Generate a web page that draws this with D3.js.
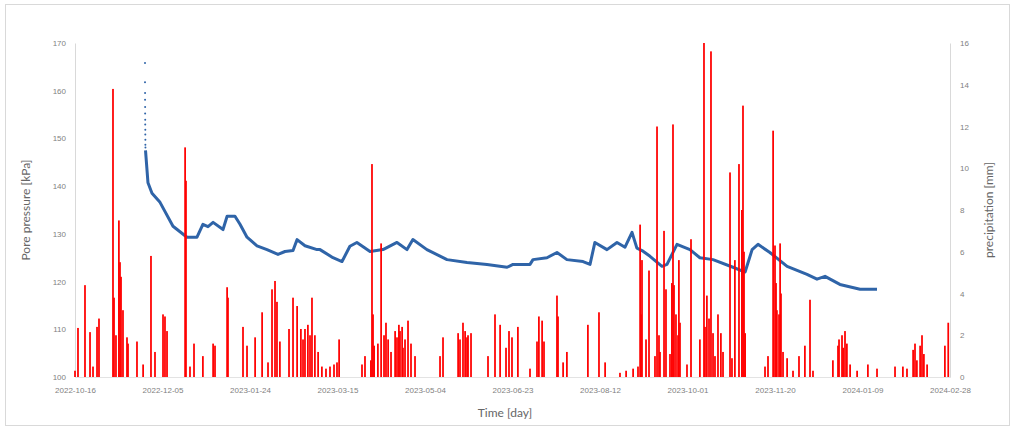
<!DOCTYPE html>
<html>
<head>
<meta charset="utf-8">
<script src="https://cdn.jsdelivr.net/npm/d3@7"></script>
<style>
    body { margin: 0; background: #fff; }
    svg { display: block; font-family: Lato, "Open Sans", sans-serif; }
    .tick text { fill: #7f7f7f; font-size: 8px; }
    .title { fill: #666; font-size: 12px; }
</style>
</head>
<body>
<svg width="1014" height="431"></svg>
<script>
// days are counted from the first date tick (2022-10-16)
const startDate = "2022-10-16";
const dateTicks = ["2022-10-16", "2022-12-05", "2023-01-24", "2023-03-15", "2023-05-04", "2023-06-23",
    "2023-08-12", "2023-10-01", "2023-11-20", "2024-01-09", "2024-02-28"];
const pressureTicks = [100, 110, 120, 130, 140, 150, 160, 170];
const precipTicks = [0, 2, 4, 6, 8, 10, 12, 14, 16];

// first readings after installation, shown as dots
const initDays = [40.0, 40.02, 40.04, 40.06, 40.08, 40.1, 40.12, 40.14, 40.16, 40.18, 40.2, 40.22, 40.24];
const initKpa = [165.8, 161.8, 159.5, 158.1, 156.6, 155.2, 153.9, 152.9, 151.8, 150.8, 149.7, 148.7, 148.1];

const poreDays = [40.3, 41.7, 44, 48.6, 56, 64, 69.7, 73.1, 76, 78.9, 84.6, 86.9, 91.4, 94.3, 98.3, 104,
    109.7, 116, 120, 124.6, 126.9, 131.4, 138.3, 140, 147.4, 152.6, 157.1, 161.1, 168.6, 176, 184,
    189.7, 193.1, 201.1, 212.6, 224, 235.4, 246.9, 250.3, 260, 261.7, 269.7, 275.4, 281.1, 290.3,
    294.3, 297.1, 304, 309.7, 314.3, 318.3, 321.1, 324, 328.6, 335.4, 338.3, 344, 351.4, 357.1,
    364.6, 376, 382.9, 386.9, 390.3, 397.1, 406.9, 418.3, 424, 428.6, 437.1, 448.6, 458.3];
const poreKpa = [147.5, 140.7, 138.5, 136.6, 131.6, 129.3, 129.3, 132, 131.5, 132.4, 130.9, 133.7, 133.7,
    132, 129.3, 127.5, 126.7, 125.7, 126.3, 126.5, 128.8, 127.5, 126.7, 126.7, 125, 124.2, 127.4,
    128.2, 126.3, 126.7, 128.2, 126.7, 128.8, 126.7, 124.6, 124, 123.6, 123, 123.6, 123.6, 124.6,
    125, 126.1, 124.6, 124.2, 123.6, 128.2, 126.7, 128.2, 127.2, 130.3, 127, 126.5, 125.3, 123.2,
    123.6, 127.8, 126.7, 125, 124.6, 123, 122, 126.7, 127.8, 126.1, 123.2, 121.5, 120.5, 121.1,
    119.4, 118.4, 118.4];

const rainDays = [0.0, 1.7, 5.7, 8.6, 10.3, 12.6, 13.7, 21.7, 22.3, 23.4, 25.1, 25.7, 26.3, 27.4, 29.7,
    30.3, 35.4, 38.9, 43.4, 45.7, 50.3, 51.4, 52.6, 62.9, 63.4, 65.7, 68.0, 73.1, 78.9, 80.0, 86.9,
    87.4, 96.0, 98.3, 102.9, 106.9, 110.3, 112.6, 114.3, 115.4, 117.1, 122.3, 124.6, 126.9, 129.1,
    130.3, 131.4, 133.1, 134.3, 135.4, 137.1, 138.9, 141.1, 143.4, 145.7, 148.0, 149.7, 150.9, 164.0,
    165.7, 169.1, 169.7, 170.3, 170.9, 173.1, 174.9, 176.6, 177.7, 178.9, 180.6, 182.9, 184.0, 185.1,
    185.7, 186.9, 187.4, 188.6, 190.3, 192.0, 194.3, 208.6, 210.3, 218.9, 220.0, 221.7, 222.9, 224.0,
    224.6, 226.3, 236.0, 240.0, 242.9, 246.3, 248.0, 249.7, 253.1, 260.0, 264.0, 265.1, 266.9, 268.0,
    275.4, 276.0, 278.9, 281.1, 293.1, 299.4, 302.9, 311.4, 314.9, 318.9, 321.7, 322.9, 323.4, 324.0,
    326.3, 328.0, 331.4, 332.6, 333.7, 334.3, 336.6, 337.7, 340.0, 341.1, 341.7, 342.3, 343.4, 344.6,
    345.1, 345.7, 349.7, 352.0, 357.1, 359.4, 360.0, 361.1, 362.3, 363.4, 364.6, 365.7, 367.4, 369.1,
    370.3, 374.3, 375.4, 377.1, 379.4, 381.1, 381.7, 382.3, 382.9, 394.3, 396.0, 398.9, 400.0, 400.6,
    401.1, 402.3, 402.9, 403.4, 404.6, 406.9, 410.3, 413.7, 417.1, 420.0, 421.7, 433.1, 436.0, 436.6,
    438.3, 438.9, 440.0, 441.1, 442.9, 446.9, 453.1, 458.3, 468.6, 473.1, 475.4, 478.9, 480.0, 481.1,
    482.9, 484.0, 485.1, 486.9, 497.1, 499.0];
const rainMm = [0.3, 2.35, 4.4, 2.15, 0.5, 2.4, 2.8, 13.8, 3.8, 2.0, 7.5, 5.5, 4.8, 3.2, 1.9,
    1.6, 1.7, 0.6, 5.8, 1.2, 3.0, 2.9, 2.2, 11.0, 9.4, 0.5, 1.6, 1.0, 1.6, 1.5, 4.3,
    3.8, 2.4, 1.5, 1.9, 3.1, 0.7, 4.2, 4.6, 3.6, 1.7, 2.3, 3.8, 3.4, 2.3,
    1.8, 2.3, 2.5, 2.0, 3.8, 2.0, 1.2, 0.5, 0.4, 0.5, 0.6, 0.7, 1.8, 0.6,
    1.0, 0.8, 10.2, 3.0, 1.5, 1.6, 6.4, 2.0, 2.6, 1.8, 1.2, 2.2, 1.9, 2.5,
    2.2, 2.4, 1.4, 1.8, 2.7, 1.6, 1.0, 1.0, 1.9, 2.1, 1.8, 2.6, 2.2, 1.9,
    2.0, 2.1, 1.0, 3.0, 2.5, 1.4, 2.2, 1.9, 2.4, 0.4, 1.7, 2.9, 2.7, 1.7,
    3.9, 2.9, 0.7, 1.2, 2.5, 3.1, 0.7, 0.2, 0.3, 0.4, 0.5, 7.3, 3.0, 5.6,
    1.8, 5.1, 1.0, 12.0, 2.0, 1.2, 7.0, 4.2, 1.1, 4.5, 12.1, 4.4, 3.0, 2.0,
    5.6, 2.6, 0.6, 6.6, 1.8, 16.0, 2.4, 3.9, 2.8, 15.6, 2.1, 1.0, 3.0, 2.1,
    1.2, 9.8, 0.9, 5.6, 10.2, 8.0, 13.0, 6.0, 2.1, 0.5, 1.0, 11.8, 6.3, 4.5,
    3.2, 3.0, 6.4, 4.0, 1.2, 0.9, 0.3, 1.0, 1.5, 3.7, 0.3, 0.8, 1.5, 1.8,
    2.0, 1.4, 2.2, 1.6, 0.6, 0.3, 0.6, 0.4, 0.5, 0.5, 0.4, 1.3, 1.6, 0.8,
    1.5, 2.0, 1.1, 0.6, 1.5, 2.6];

(function () {
    var svg = d3.select("svg");
    var margin = { left: 75, right: 64, top: 43, bottom: 54 },
        width = 1014 - margin.left - margin.right,
        height = 431 - margin.top - margin.bottom;

    var t0 = d3.isoParse(startDate);
    var dayToDate = d => d3.timeHour.offset(t0, Math.round(d * 24));

    var x = d3.scaleTime()
        .domain([t0, d3.isoParse(dateTicks[dateTicks.length - 1])])
        .range([0, width]);
    var yL = d3.scaleLinear().domain([100, 170]).range([height, 0]);
    var yR = d3.scaleLinear().domain([0, 16]).range([height, 0]);

    // outer frame
    svg.append("rect")
        .attr("x", 5.5).attr("y", 4.5).attr("width", 1004).attr("height", 421)
        .attr("fill", "#fff").attr("stroke", "#d9d9d9");

    const g = svg.append("g")
        .attr("transform", `translate(${margin.left},${margin.top})`);

    // axes
    var xAxis = d3.axisBottom(x)
        .tickValues(dateTicks.map(d3.isoParse))
        .tickFormat(d3.timeFormat("%Y-%m-%d"))
        .tickSize(0).tickPadding(10);
    g.append("g").attr("transform", `translate(0,${height})`).call(xAxis)
        .call(a => a.select(".domain").attr("stroke", "#e3e3e3"));

    g.append("g").call(d3.axisLeft(yL).tickValues(pressureTicks).tickSize(0).tickPadding(9))
        .call(a => a.select(".domain").attr("stroke", "#d9d9d9"));

    g.append("g").attr("transform", `translate(${width},0)`)
        .call(d3.axisRight(yR).tickValues(precipTicks).tickSize(0).tickPadding(10))
        .call(a => a.select(".domain").attr("stroke", "#d9d9d9"));

    g.selectAll(".tick text").attr("font-family", null).attr("font-size", null);

    // pore pressure
    var pore = poreDays.map((d, i) => ({ t: dayToDate(d), v: poreKpa[i] }));
    g.append("path")
        .datum(pore)
        .attr("fill", "none")
        .attr("stroke", "#2f64a8")
        .attr("stroke-width", 3)
        .attr("stroke-linejoin", "round")
        .attr("d", d3.line().x(d => x(d.t)).y(d => yL(d.v)));

    g.selectAll(".init")
        .data(initDays.map((d, i) => ({ t: dayToDate(d), v: initKpa[i] })))
        .enter().append("circle")
        .attr("class", "init")
        .attr("cx", d => x(d.t)).attr("cy", d => yL(d.v))
        .attr("r", 1).attr("fill", "#2f64a8");

    // precipitation bars
    var bw = x(dayToDate(1)) - x(t0);
    g.selectAll(".rain")
        .data(rainDays.map((d, i) => ({ t: dayToDate(d), v: rainMm[i] })))
        .enter().append("rect")
        .attr("class", "rain")
        .attr("x", d => x(d.t) - bw / 2)
        .attr("y", d => yR(d.v))
        .attr("width", bw)
        .attr("height", d => height - yR(d.v))
        .attr("fill", "#ff0000");

    // titles
    svg.append("text").attr("class", "title")
        .attr("transform", "translate(30,210) rotate(-90)")
        .attr("text-anchor", "middle").text("Pore pressure [kPa]");
    svg.append("text").attr("class", "title")
        .attr("transform", "translate(993,210) rotate(-90)")
        .attr("text-anchor", "middle").text("precipitation [mm]");
    svg.append("text").attr("class", "title")
        .attr("x", 505).attr("y", 417)
        .attr("text-anchor", "middle").text("Time [day]");
}());
</script>
</body>
</html>
